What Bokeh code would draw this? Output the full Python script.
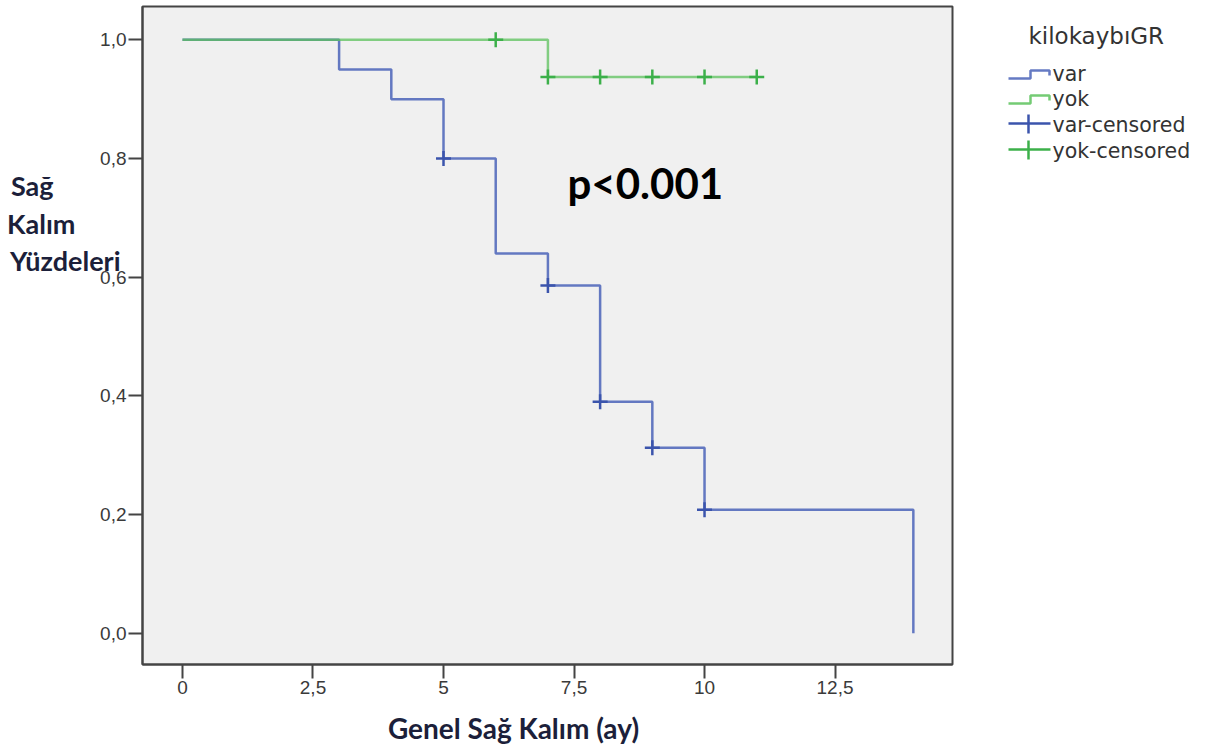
from bokeh.plotting import figure
from bokeh.layouts import row
from bokeh.models import Range1d, FixedTicker, Label, LinearAxis
from bokeh.core.properties import value
from bokeh.embed import file_html
from bokeh.resources import INLINE

# ---- data ----
var_times = [0, 3, 4, 5, 6, 7, 8, 9, 10, 14]
var_surv = [1.0, 0.95, 0.90, 0.80, 0.64, 0.586, 0.39, 0.3125, 0.208, 0.0]
var_cens_t = [5, 7, 8, 9, 10]
var_cens_s = [0.80, 0.586, 0.39, 0.3125, 0.208]

yok_times = [0, 7, 11]
yok_surv = [1.0, 0.9375, 0.9375]
yok_cens_t = [6, 7, 8, 9, 10, 11]
yok_cens_s = [1.0, 0.9375, 0.9375, 0.9375, 0.9375, 0.9375]

x_ticks = [0, 2.5, 5, 7.5, 10, 12.5]
x_tick_labels = ["0", "2,5", "5", "7,5", "10", "12,5"]
y_ticks = [0.0, 0.2, 0.4, 0.6, 0.8, 1.0]
y_tick_labels = ["0,0", "0,2", "0,4", "0,6", "0,8", "1,0"]

legend_title = "kilokaybıGR"
legend_names = ["var", "yok", "var-censored", "yok-censored"]
x_title = "Genel Sağ Kalım (ay)"
y_title_lines = ["Sağ", "Kalım", "Yüzdeleri"]
p_text = "p<0.001"

BLUE = "#4a63b8"
BLUE_M = "#3b54ac"
GREEN = "#5cc25c"
GREEN_M = "#3cb04a"
TITLE_FONT = "Lato"
TITLE_COLOR = "#1c1f3a"

p = figure(width=960, height=748, output_backend="svg", toolbar_location=None,
           x_range=Range1d(-0.766, 14.75), y_range=Range1d(-0.0527, 1.0561),
           min_border_left=142, min_border_right=8, min_border_top=6, min_border_bottom=84)
p.background_fill_color = "#f0f0f0"
p.border_fill_color = "white"
p.outline_line_color = "#444444"
p.outline_line_width = 2
p.grid.visible = False

for ax in (p.xaxis[0], p.yaxis[0]):
    ax.axis_line_color = "#444444"
    ax.axis_line_width = 2
    ax.major_tick_line_color = "#444444"
    ax.major_tick_line_width = 2
    ax.major_tick_out = 14
    ax.major_tick_in = 0
    ax.minor_tick_line_color = None
    ax.major_label_text_font = "Liberation Sans"
    ax.major_label_text_font_size = "19px"
    ax.major_label_text_color = "#3a3a3a"
    ax.major_label_standoff = 2

p.xaxis.ticker = FixedTicker(ticks=x_ticks)
p.xaxis.major_label_overrides = {t: l for t, l in zip(x_ticks, x_tick_labels)}
p.yaxis.ticker = FixedTicker(ticks=y_ticks)
p.yaxis.major_label_overrides = {t: l for t, l in zip(y_ticks, y_tick_labels)}

# x title (trailing no-break spaces shift the centred label to the left, as in the original)
p.xaxis.axis_label = x_title + "\u00a0" * 10
p.xaxis.axis_label_text_font = TITLE_FONT
p.xaxis.axis_label_text_font_style = "bold"
p.xaxis.axis_label_text_font_size = "28px"
p.xaxis.axis_label_text_color = TITLE_COLOR
p.xaxis.axis_label_standoff = 14


# y title: label-only axes on the left, one per line, horizontal text
def title_axis(text, n_lines, standoff):
    ax = LinearAxis(ticker=FixedTicker(ticks=[]),
                    axis_label="\n".join([text] + [" "] * (n_lines - 1)))
    ax.axis_line_color = None
    ax.major_tick_line_color = None
    ax.minor_tick_line_color = None
    ax.major_tick_out = 0
    ax.major_tick_in = 0
    ax.major_label_standoff = 0
    ax.axis_label_standoff = standoff
    ax.axis_label_text_font = TITLE_FONT
    ax.axis_label_text_font_style = "bold"
    ax.axis_label_text_font_size = "27px"
    ax.axis_label_text_color = TITLE_COLOR
    ax.axis_label_text_line_height = 1.135
    if "axis_label_orientation" in ax.properties():
        ax.axis_label_orientation = "horizontal"
    p.add_layout(ax, "left")


title_axis(y_title_lines[2], 5, -23)
title_axis(y_title_lines[1], 7, -68)
title_axis(y_title_lines[0], 9, -49)

p.step(var_times, var_surv, mode="after", line_color=BLUE, line_width=2.5, line_alpha=0.85)
p.step(yok_times, yok_surv, mode="after", line_color=GREEN, line_width=2.5, line_alpha=0.75)
p.scatter(var_cens_t, var_cens_s, marker="cross", size=15, line_color=BLUE_M, line_width=2.5)
p.scatter(yok_cens_t, yok_cens_s, marker="cross", size=15, line_color=GREEN_M, line_width=2.5)

p.add_layout(Label(x=7.375, y=0.758, text=p_text, text_font="Lato", text_font_style="bold",
                   text_font_size="42px", text_color="black", text_baseline="middle"))

# ---- legend panel ----
lg = figure(width=243, height=748, output_backend="svg", toolbar_location=None,
            x_range=Range1d(960, 1203), y_range=Range1d(664, 6), min_border=0)
lg.axis.visible = False
lg.grid.visible = False
lg.outline_line_color = None
lg.background_fill_color = "white"
lg.border_fill_color = "white"

lg.text(x=[1028], y=[35], text=[legend_title], text_font=value("DejaVu Sans"),
        text_font_size="23px", text_color="#333333", text_baseline="middle")

entry_y = [73, 98, 124, 150]
lg.text(x=[1052] * 4, y=entry_y, text=legend_names, text_font=value("DejaVu Sans"),
        text_font_size="20.5px", text_color="#333333", text_baseline="middle")

for c, yc in zip([BLUE, GREEN], entry_y[:2]):
    lg.line([1008, 1030, 1030, 1049, 1049], [yc + 5, yc + 5, yc - 3, yc - 3, yc + 2],
            line_color=c, line_width=2.5, line_alpha=0.85)
for c, yc in zip([BLUE_M, GREEN_M], entry_y[2:]):
    lg.line([1008, 1050], [yc - 1, yc - 1], line_color=c, line_width=2.5)
    lg.line([1028, 1028], [yc - 10, yc + 9], line_color=c, line_width=2.5)

layout = row(p, lg)
open("out.html", "w").write(file_html(layout, INLINE))
